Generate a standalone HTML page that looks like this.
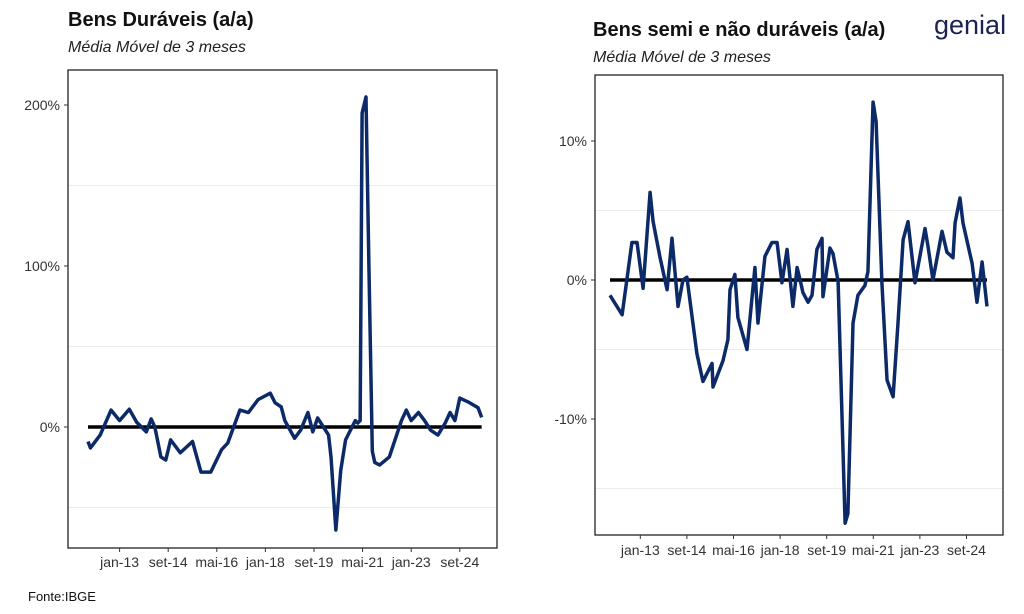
<!DOCTYPE html>
<html><head><meta charset="utf-8"><style>
body{margin:0;background:#fff;width:1024px;height:614px;overflow:hidden;font-family:"Liberation Sans",sans-serif}
svg{position:absolute;left:0;top:0}
</style></head><body>
<svg width="1024" height="614">
<text x="68" y="26" font-size="20" font-weight="bold" fill="#111">Bens Duráveis (a/a)</text>
<text x="68" y="52" font-size="16" font-style="italic" fill="#222">Média Móvel de 3 meses</text>
<text x="593" y="36" font-size="20" font-weight="bold" fill="#111">Bens semi e não duráveis (a/a)</text>
<text x="593" y="62" font-size="16" font-style="italic" fill="#222">Média Móvel de 3 meses</text>
<text x="934" y="34" font-size="27" fill="#1c2350">genial</text>
<text x="28" y="601" font-size="13" fill="#111">Fonte:IBGE</text>
<g id="left"></g>
<g id="right"></g>
</svg>
<script>
const tickMonths=[13,33,53,73,93,113,133,153];
const tickLabels=["jan-13","set-14","mai-16","jan-18","set-19","mai-21","jan-23","set-24"];
const leftMonths=[0,1,5,9.5,13,17,20,24,26,27.5,30,32,34,38,43,46.5,50.5,55,57.5,62.5,66,70,75,77,79.5,81,85,87.5,90.5,92.5,94.5,99,100,102,104,106,110,111,112,112.8,114.4,115.6,117,118,120,124,129,131,133,136,138.5,141,144,147,149,151,153,156.5,160.5,162];
const leftValues=[-9,-13,-5,10.5,4,11,3,-3,5,0,-18.6,-20.5,-8,-16,-9,-28,-28,-14,-10,10.5,9,17,21,15,12.5,4,-7,-2,9,-3,5.6,-5,-18.6,-64,-27,-8,4,2.5,4,195,205,100,-15,-22,-23.6,-18.6,4,10.5,4,9,4,-2,-5,2.5,9,4,18,15.5,12,6];
const leftTicks=[0,100,200];
const leftTickLabels=["0%","100%","200%"];
const rightMonths=[0,5.2,9.4,11.6,14.2,17.2,18.5,21.5,24.5,26.6,29.2,31.3,33,37.3,39.9,43.8,44.2,48.5,50.6,51.5,53.6,54.9,58.8,62.2,63.5,66.5,69.5,71.7,73.8,76,78.5,80.3,81.6,82.8,85,86.7,88.8,91,91.4,94.4,95.7,97.9,100.9,102.1,104.3,106.4,109.4,110.7,112.9,114.2,116.7,118.9,121.5,123.6,125.8,127.9,130.9,135.2,136.5,138.6,142.5,144.6,147.2,148.1,150.2,151.5,155.4,157.5,159.7,161.8];
const rightValues=[-1.1,-2.5,2.7,2.7,-0.6,6.3,4.2,1.6,-0.7,3,-1.9,0,0.2,-5.3,-7.3,-6,-7.7,-5.8,-4.3,-0.7,0.4,-2.7,-5,0.9,-3.1,1.7,2.7,2.7,-0.2,2.2,-1.9,0.9,0,-0.9,-1.6,-1.1,2.2,3,-1.2,2.3,1.9,-0.1,-17.5,-16.8,-3.1,-1.1,-0.4,0.6,12.8,11.4,-0.2,-7.2,-8.4,-3.1,2.9,4.2,-0.2,3.7,2.4,0,3.5,2,1.6,4.1,5.9,4.1,1.2,-1.6,1.3,-1.9];
const rightTicks=[-10,0,10];
const rightTickLabels=["-10%","0%","10%"];
const NS="http://www.w3.org/2000/svg";
function mk(p,t,a){const e=document.createElementNS(NS,t);for(const k in a)e.setAttribute(k,a[k]);p.appendChild(e);return e;}
function panel(g,box,x0,pxm,y0,pxv,minors,ticks,tlabels,months,values,tickY){
  const X=m=>x0+m*pxm, Y=v=>y0-v*pxv;
  minors.forEach(v=>{const l=mk(g,'line',{x1:box[0],x2:box[2],y1:Y(v),y2:Y(v),stroke:'#ececec','stroke-width':1});
    
    });
  const r=mk(g,'rect',{x:box[0],y:box[1],width:box[2]-box[0],height:box[3]-box[1],fill:'none',stroke:'#222','stroke-width':1.3});
  
  
  ticks.forEach((v,i)=>{mk(g,'line',{x1:box[0]-4,x2:box[0],y1:Y(v),y2:Y(v),stroke:'#333'});
    const t=mk(g,'text',{x:box[0]-8,y:Y(v)+5,'font-size':14,'text-anchor':'end',fill:'#333'});t.textContent=tlabels[i];
    
    });
  tickMonths.forEach((m,i)=>{mk(g,'line',{x1:X(m),x2:X(m),y1:box[3],y2:box[3]+4,stroke:'#333'});
    const t=mk(g,'text',{x:X(m),y:tickY,'font-size':14,'text-anchor':'middle',fill:'#333'});t.textContent=tickLabels[i];
    
    });
  const z=mk(g,'line',{x1:X(months[0]),x2:X(months[months.length-1]),y1:Y(0),y2:Y(0),stroke:'#000','stroke-width':3.5});
  
  
  const p=mk(g,'polyline',{points:months.map((m,i)=>X(m)+','+Y(values[i])).join(' '),fill:'none',stroke:'#0c2a68','stroke-width':3.5,'stroke-linejoin':'round'});
  
  
}
panel(document.getElementById('left'),[68,70,497,548],88,2.43,427,1.61,[-50,50,150],leftTicks,leftTickLabels,leftMonths,leftValues,567);
panel(document.getElementById('right'),[595,75,1003,535],610,2.33,280,13.9,[-15,-5,5],rightTicks,rightTickLabels,rightMonths,rightValues,555);
</script>
</body></html>
